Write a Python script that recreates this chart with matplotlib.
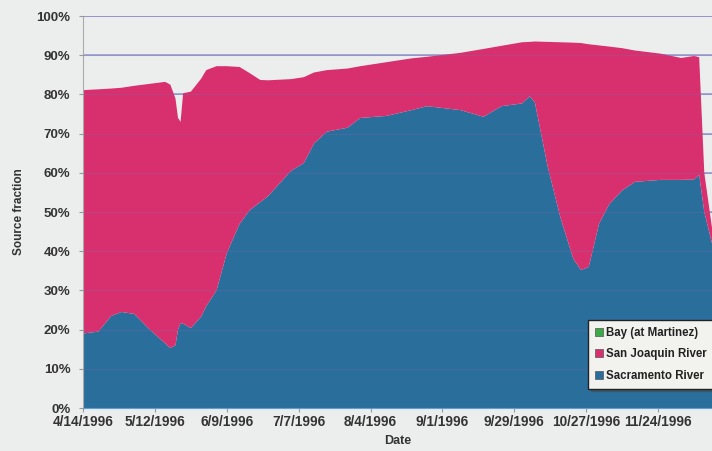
import numpy as np
import matplotlib
matplotlib.use('Agg')
import matplotlib.pyplot as plt
from matplotlib.patches import Patch
from matplotlib.ticker import PercentFormatter

# (percent of total)
dates = ['1996-04-14', '1996-04-20', '1996-04-25', '1996-04-29', '1996-05-04',
         '1996-05-10', '1996-05-16', '1996-05-18', '1996-05-20', '1996-05-21',
         '1996-05-22', '1996-05-23', '1996-05-26', '1996-05-30', '1996-06-01',
         '1996-06-05', '1996-06-09', '1996-06-14', '1996-06-18', '1996-06-22',
         '1996-06-25', '1996-07-04', '1996-07-09', '1996-07-13', '1996-07-18',
         '1996-07-26', '1996-07-31', '1996-08-10', '1996-08-20', '1996-08-26',
         '1996-09-08', '1996-09-17', '1996-09-24', '1996-10-02', '1996-10-05',
         '1996-10-07', '1996-10-12', '1996-10-17', '1996-10-22', '1996-10-25',
         '1996-10-28', '1996-11-01', '1996-11-05', '1996-11-10', '1996-11-15',
         '1996-11-25', '1996-12-03', '1996-12-08', '1996-12-10', '1996-12-12',
         '1996-12-15']

sacramento = [19.0, 19.5, 23.5, 24.5, 24.0, 20.0, 16.5, 15.3, 16.0, 20.0,
              21.7, 21.5, 20.4, 23.3, 26.0, 30.0, 39.5, 47.0, 50.5, 52.5,
              54.0, 60.5, 62.5, 67.5, 70.5, 71.5, 74.0, 74.5, 76.0, 77.0,
              76.0, 74.3, 77.0, 77.7, 79.5, 78.0, 61.6, 48.5, 38.0, 35.2,
              36.0, 47.0, 52.0, 55.5, 57.7, 58.2, 58.2, 58.3, 59.5, 50.0,
              42.0]

san_joaquin = [62.1, 61.8, 58.0, 57.2, 58.2, 62.7, 66.7, 67.2, 63.0, 54.0,
               51.3, 58.8, 60.3, 60.7, 60.2, 57.2, 47.7, 40.0, 34.9, 31.2,
               29.6, 23.4, 21.9, 18.1, 15.7, 15.1, 13.2, 13.7, 13.2, 12.6,
               14.6, 17.3, 15.4, 15.6, 13.9, 15.5, 31.8, 44.8, 55.2, 57.9,
               56.8, 45.5, 40.2, 36.3, 33.5, 32.2, 31.1, 31.5, 30.0, 10.0,
               4.0]

tick_dates = ['1996-04-14', '1996-05-12', '1996-06-09', '1996-07-07', '1996-08-04',
              '1996-09-01', '1996-09-29', '1996-10-27', '1996-11-24']
tick_labels = ['4/14/1996', '5/12/1996', '6/9/1996', '7/7/1996', '8/4/1996',
               '9/1/1996', '9/29/1996', '10/27/1996', '11/24/1996']

series_names = ['Bay (at Martinez)', 'San Joaquin River', 'Sacramento River']

blue = '#2a6e9c'
pink = '#d8306f'
green = '#3daa48'
bg = '#eceeed'

plt.rcParams['font.family'] = ['Liberation Sans', 'DejaVu Sans']
plt.rcParams['font.weight'] = 'bold'

x = np.array(dates, dtype='datetime64[D]')

fig = plt.figure(figsize=(7.12, 4.51), dpi=100, facecolor=bg)
ax = fig.add_axes([0.1166, 0.0953, 0.8834, 0.8692], facecolor=bg)

ax.stackplot(x, sacramento, san_joaquin, colors=[blue, pink], linewidth=0, zorder=2)

ax.set_ylim(0, 100)
ax.set_yticks(np.arange(0, 101, 10))
ax.yaxis.set_major_formatter(PercentFormatter(100, decimals=0))
ax.grid(axis='y', color='#8f95cf', linewidth=1.1, zorder=1)
for yy in range(10, 101, 10):
    ax.axhline(yy, color='#7c6aa8', linewidth=0.8, alpha=0.3, zorder=3)

ax.set_xlim(np.datetime64('1996-04-14'), np.datetime64('1996-12-15'))
ax.set_xticks(np.array(tick_dates, dtype='datetime64[D]'))
ax.set_xticklabels(tick_labels)

ax.tick_params(axis='x', labelsize=9.8, length=3, color='#999999', pad=2)
ax.tick_params(axis='y', labelsize=9.5, length=3, color='#999999', pad=6)
for lab in ax.get_xticklabels() + ax.get_yticklabels():
    lab.set_color('#333333')

for s in ['top', 'right']:
    ax.spines[s].set_visible(False)
ax.spines['left'].set_color('#aaaaaa')
ax.spines['bottom'].set_color('#5aa0d8')

ax.set_xlabel('Date', fontsize=9, fontweight='bold', color='#333333', labelpad=4)
ax.set_ylabel('Source fraction', fontsize=8.5, fontweight='bold', color='#333333', labelpad=8)

handles = [Patch(facecolor=green, edgecolor='#555555', linewidth=0.5),
           Patch(facecolor=pink, edgecolor='#555555', linewidth=0.5),
           Patch(facecolor=blue, edgecolor='#555555', linewidth=0.5)]
leg = ax.legend(handles, series_names, loc='lower right', bbox_to_anchor=(1.012, 0.035),
                fontsize=8.3, frameon=True, fancybox=False, shadow=True,
                handlelength=0.7, handleheight=0.7, handletextpad=0.3,
                labelspacing=0.8, borderpad=0.6, framealpha=1)
leg.get_frame().set_edgecolor('#222222')
leg.get_frame().set_facecolor('#f2f2ee')
for t in leg.get_texts():
    t.set_color('#222222')
    t.set_fontweight('bold')
leg.set_zorder(5)

fig.savefig('out.png', dpi=100, facecolor=bg)
